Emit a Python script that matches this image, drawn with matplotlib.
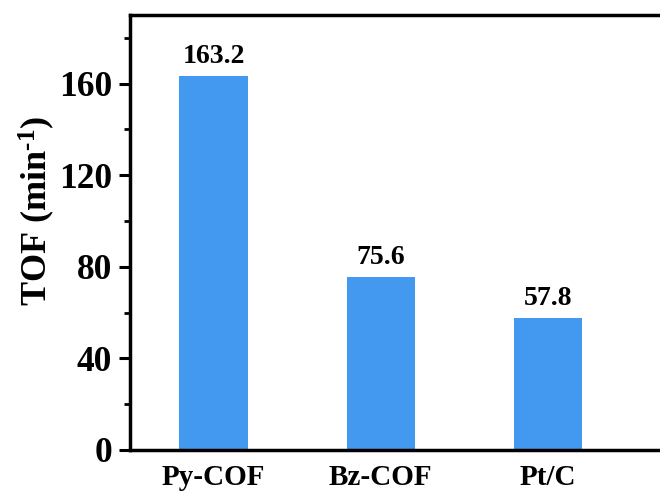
import matplotlib
matplotlib.use("Agg")
import matplotlib.pyplot as plt
from matplotlib.ticker import MultipleLocator

catalysts = ["Py-COF", "Bz-COF", "Pt/C"]
tof_values = [163.2, 75.6, 57.8]
y_ticks = [0, 40, 80, 120, 160]

plt.rcParams["font.family"] = ["Liberation Serif", "DejaVu Serif"]
plt.rcParams["font.weight"] = "bold"
plt.rcParams["mathtext.fontset"] = "custom"
plt.rcParams["mathtext.rm"] = "Liberation Serif:bold"
plt.rcParams["mathtext.bf"] = "Liberation Serif:bold"
plt.rcParams["mathtext.it"] = "Liberation Serif:bold"

fig = plt.figure(figsize=(6.6, 4.97), dpi=100)
ax = fig.add_axes([130 / 660, 1 - 450 / 497, 1 - 130 / 660, (450 - 15) / 497])

x = list(range(len(catalysts)))
ax.bar(x, tof_values, width=0.41, color="#4398F0")
for xi, v in zip(x, tof_values):
    ax.text(xi, v + 3, f"{v:.1f}", ha="center", va="bottom",
            fontsize=20, fontweight="bold")

ax.set_xlim(-0.5, 2.67)
ax.set_ylim(0, 190)
ax.set_xticks(x)
ax.set_xticklabels(catalysts, fontsize=21, fontweight="bold")
ax.set_yticks(y_ticks)
ax.set_yticklabels([str(t) for t in y_ticks], fontsize=25.5, fontweight="bold")
ax.yaxis.set_minor_locator(MultipleLocator(20))

ax.set_ylabel("TOF (min$^{\\text{-1}}$)", fontsize=26, fontweight="bold")
ax.yaxis.set_label_coords(-0.137, 0.55)

for side in ["left", "bottom", "top"]:
    ax.spines[side].set_linewidth(2.5)
ax.spines["right"].set_visible(False)
ax.tick_params(axis="y", which="major", direction="out", length=8, width=2.2, pad=5)
ax.tick_params(axis="y", which="minor", direction="out", length=4, width=2.0)
ax.tick_params(axis="x", which="major", length=0, pad=10)

fig.savefig("out.png", dpi=100)
